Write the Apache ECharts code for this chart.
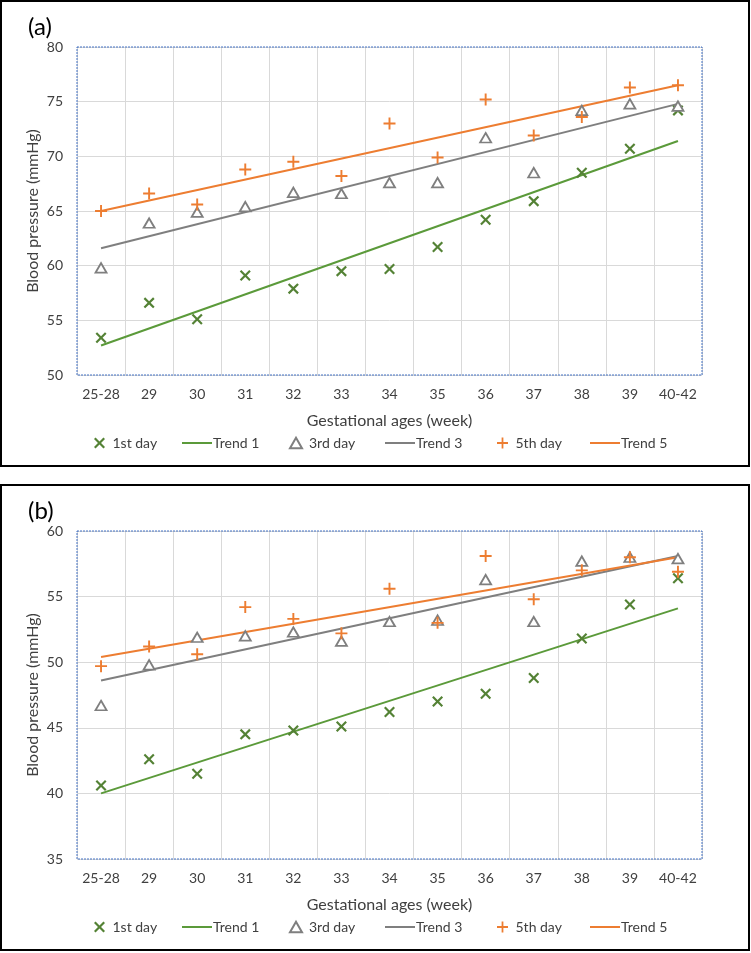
<!DOCTYPE html>
<html>
<head>
<meta charset="utf-8">
<script src="https://cdn.jsdelivr.net/npm/echarts@6/dist/echarts.min.js"></script>
<style>
html,body{margin:0;padding:0;background:#fff;}
#chart{width:751px;height:953px;}
</style>
</head>
<body>
<div id="chart"></div>
<script>
// ---- data ----
const categories = ['25-28','29','30','31','32','33','34','35','36','37','38','39','40-42'];
const trendCats = ['25-28','40-42'];

const aDay1 = [53.4, 56.6, 55.1, 59.1, 57.9, 59.5, 59.7, 61.7, 64.2, 65.9, 68.5, 70.7, 74.2];
const aDay3 = [59.8, 63.9, 64.9, 65.4, 66.7, 66.6, 67.6, 67.6, 71.7, 68.5, 74.2, 74.8, 74.6];
const aDay5 = [65.0, 66.6, 65.6, 68.8, 69.5, 68.2, 73.0, 69.9, 75.2, 71.9, 73.6, 76.3, 76.5];
const aTrend1 = [52.7, 71.4];
const aTrend3 = [61.6, 74.8];
const aTrend5 = [65.0, 76.5];

const bDay1 = [40.6, 42.6, 41.5, 44.5, 44.8, 45.1, 46.2, 47.0, 47.6, 48.8, 51.8, 54.4, 56.4];
const bDay3 = [46.7, 49.8, 51.9, 52.0, 52.3, 51.6, 53.1, 53.2, 56.3, 53.1, 57.7, 58.0, 57.9];
const bDay5 = [49.7, 51.2, 50.6, 54.2, 53.3, 52.2, 55.6, 53.0, 58.1, 54.8, 57.0, 58.0, 56.9];
const bTrend1 = [40.0, 54.1];
const bTrend3 = [48.6, 58.1];
const bTrend5 = [50.4, 58.0];

const yRangeA = [50, 80];
const yRangeB = [35, 60];
const yStep = 5;

const panelLabels = ['(a)', '(b)'];
const xTitle = 'Gestational ages (week)';
const yTitle = 'Blood pressure (mmHg)';
const legendNames = ['1st day','Trend 1','3rd day','Trend 3','5th day','Trend 5'];

// ---- styles ----
const GREEN = '#548235', GREEN_L = '#5B9A3A', GRAY = '#7F7F7F', ORANGE = '#ED7D31';
const FONT = 'Lato, "Liberation Sans", sans-serif';
const X_SYM = 'path://M0,1.4 L1.4,0 L5,3.6 L8.6,0 L10,1.4 L6.4,5 L10,8.6 L8.6,10 L5,6.4 L1.4,10 L0,8.6 L3.6,5 Z';
const PLUS_SYM = 'path://M4.2,0 H5.8 V4.2 H10 V5.8 H5.8 V10 H4.2 V5.8 H0 V4.2 H4.2 Z';
const TRI_SYM = 'path://M5,0 L10,8.6 L0,8.6 Z';
const LINE_SYM = 'path://M0,0 H30 V2 H0 Z';

const panelTop = [1, 485];
const PH = 465;
const gridL = 77, gridW = 625, gridH = 328, gridOff = 46;
// legend item layout: [left, icon, iconWidth, textPad]
const legendLayout = [
  [94, X_SYM, 12, 2],
  [182, LINE_SYM, 30, -4],
  [289, TRI_SYM, 12, 2],
  [385, LINE_SYM, 30, -4],
  [497, PLUS_SYM, 12, 2],
  [590, LINE_SYM, 30, -4]
];

function pair(cats, vals){ return cats.map((c,i)=>[c, vals[i]]); }

const grids = [], xAxes = [], yAxes = [], series = [], legends = [], titles = [], graphics = [];
const panels = [
  {range: yRangeA, d1: aDay1, d3: aDay3, d5: aDay5, t1: aTrend1, t3: aTrend3, t5: aTrend5},
  {range: yRangeB, d1: bDay1, d3: bDay3, d5: bDay5, t1: bTrend1, t3: bTrend3, t5: bTrend5}
];

panels.forEach((p, i) => {
  const top = panelTop[i];
  grids.push({left: gridL, top: top + gridOff, width: gridW, height: gridH, containLabel: false});
  xAxes.push({
    type: 'category', gridIndex: i, data: categories, boundaryGap: true,
    name: xTitle, nameLocation: 'middle', nameGap: 38, nameMoveOverlap: false,
    nameTextStyle: {fontFamily: FONT, fontSize: 16, color: '#404040'},
    axisLine: {show: false}, axisTick: {show: false},
    axisLabel: {interval: 0, margin: 12, fontFamily: FONT, fontSize: 14, color: '#404040'},
    splitLine: {show: true, interval: 0, lineStyle: {color: '#D9D9D9', width: 1}}
  });
  yAxes.push({
    type: 'value', gridIndex: i, min: p.range[0], max: p.range[1], interval: yStep,
    name: yTitle, nameLocation: 'middle', nameGap: 36, nameMoveOverlap: false,
    nameTextStyle: {fontFamily: FONT, fontSize: 16, color: '#404040'},
    axisLine: {show: false}, axisTick: {show: false},
    axisLabel: {margin: 14, fontFamily: FONT, fontSize: 14, color: '#404040'},
    splitLine: {show: true, lineStyle: {color: '#D9D9D9', width: 1}}
  });
  const lineSeries = (name, vals, color) => ({
    name, type: 'line', xAxisIndex: i, yAxisIndex: i, data: pair(trendCats, vals),
    showSymbol: false, symbol: 'none', silent: true, z: 2,
    lineStyle: {color, width: 2}, itemStyle: {color}
  });
  series.push(
    lineSeries('Trend 1', p.t1, GREEN_L),
    lineSeries('Trend 3', p.t3, GRAY),
    lineSeries('Trend 5', p.t5, ORANGE),
    {name: '1st day', type: 'scatter', xAxisIndex: i, yAxisIndex: i, data: p.d1, z: 3,
     symbol: X_SYM, symbolSize: 11, itemStyle: {color: GREEN, opacity: 1}},
    {name: '3rd day', type: 'scatter', xAxisIndex: i, yAxisIndex: i, data: p.d3, z: 3,
     symbol: TRI_SYM, symbolSize: [11, 9.5], itemStyle: {color: '#FFFFFF', borderColor: GRAY, borderWidth: 1.8, opacity: 1}},
    {name: '5th day', type: 'scatter', xAxisIndex: i, yAxisIndex: i, data: p.d5, z: 3,
     symbol: PLUS_SYM, symbolSize: 12, itemStyle: {color: ORANGE, opacity: 1}}
  );
  legendNames.forEach((nm, k) => {
    const [lx, icon, iw, pad] = legendLayout[k];
    legends.push({
      left: lx, top: top + 435, padding: 0, itemWidth: iw, itemHeight: 11, itemGap: 0,
      textStyle: {fontFamily: FONT, fontSize: 14, color: '#404040', padding: [0, 0, 0, pad]},
      selectedMode: false,
      data: [{name: nm, icon: icon}]
    });
  });
  titles.push({text: panelLabels[i], left: 23, top: top + 9,
    textStyle: {fontFamily: FONT, fontSize: 24, fontWeight: 'normal', color: '#000'}});
  graphics.push(
    {type: 'rect', shape: {x: 1, y: top, width: 748, height: PH}, style: {fill: 'none', stroke: '#000', lineWidth: 2}, z: 100, silent: true},
    {type: 'rect', shape: {x: gridL, y: top + gridOff, width: gridW, height: gridH}, style: {fill: 'none', stroke: '#4472C4', lineWidth: 1, lineDash: [2, 1]}, z: 100, silent: true}
  );
});

const chart = echarts.init(document.getElementById('chart'), null, {renderer: 'canvas'});
chart.setOption({
  animation: false,
  backgroundColor: '#fff',
  title: titles,
  grid: grids,
  xAxis: xAxes,
  yAxis: yAxes,
  legend: legends,
  series: series,
  graphic: graphics
});
</script>
</body>
</html>
